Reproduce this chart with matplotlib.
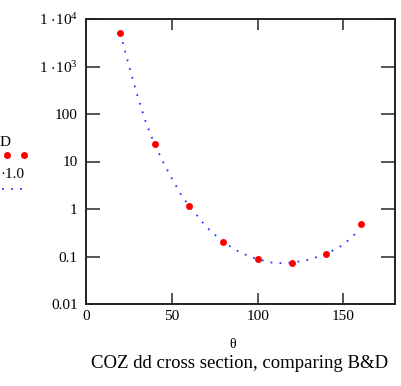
import matplotlib
matplotlib.use("Agg")
import matplotlib.pyplot as plt

plt.rcParams['font.family'] = ['Liberation Serif', 'DejaVu Serif']
plt.rcParams['mathtext.fontset'] = 'custom'
plt.rcParams['mathtext.rm'] = 'Liberation Serif'
plt.rcParams['mathtext.it'] = 'Liberation Serif:italic'

# measured points
theta_pts = [20, 40, 60, 80, 100, 120, 140, 160]
sigma_pts = [5000, 23, 1.16, 0.20, 0.087, 0.074, 0.113, 0.476]

# dotted curve
theta_curve = [20, 25, 30, 35, 40, 45, 50, 55, 60, 65, 70, 80, 90, 100, 110, 120, 130, 140, 150, 158]
sigma_curve = [5000, 1040, 240, 64, 23, 9.6, 4.4, 2.1, 1.16, 0.71, 0.42, 0.20, 0.12, 0.087, 0.072, 0.074, 0.086, 0.113, 0.177, 0.33]

xticks = [0, 50, 100, 150]
yticks = [0.01, 0.1, 1, 10, 100, 1000, 10000]
ytick_labels = ['0.01', '0.1', '1', '10', '100',
                r'$\mathregular{1\,\cdot\!10^{3}}$', r'$\mathregular{1\,\cdot\!10^{4}}$']

W, H = 402, 386
fig = plt.figure(figsize=(W/100, H/100), dpi=100)
ax = fig.add_axes([86/W, 1-304/H, (395-86)/W, (304-19)/H])

ax.plot(theta_curve, sigma_curve, color='#3030ff', lw=1.3, linestyle=(0, (1, 4)))
ax.plot(theta_pts, sigma_pts, linestyle='none', marker='o', color='red', markersize=5, markeredgewidth=0)

ax.set_yscale('log')
ax.set_xlim(0, 180)
ax.set_ylim(0.01, 10000)
ax.set_xticks(xticks)
ax.set_xticklabels([str(t) for t in xticks])
ax.set_yticks(yticks)
ax.set_yticklabels(ytick_labels)
ax.minorticks_off()

for s in ax.spines.values():
    s.set_linewidth(1.4)
    s.set_color('#222222')

ax.tick_params(axis='x', direction='in', length=8, width=1.4, color='#555555',
               top=True, labelsize=11, pad=4)
ax.tick_params(axis='y', direction='in', length=10, width=1.4, color='#555555',
               right=True, labelsize=11, pad=6)

fig.text(233/W, 1-345/H, 'θ', ha='center', va='center', fontsize=10)
fig.text(240/W, 1-364/H, 'COZ dd cross section, comparing B&D', ha='center', va='center', fontsize=13.5)

# cut-off legend at left
fig.text(0/W, 1-142/H, 'D', ha='left', va='center', fontsize=11)
fig.text(24/W, 1-174/H, '·1.0', ha='right', va='center', fontsize=11)
fig.lines.append(matplotlib.lines.Line2D([7/W, 24/W], [1-155/H, 1-155/H], transform=fig.transFigure,
                                         linestyle='none', marker='o', color='red', markersize=5, markeredgewidth=0))
fig.lines.append(matplotlib.lines.Line2D([2/W, 22/W], [1-189/H, 1-189/H], transform=fig.transFigure,
                                         color='#3030ff', lw=1.3, linestyle=(0, (1, 4))))

fig.savefig('out.png', dpi=100)
